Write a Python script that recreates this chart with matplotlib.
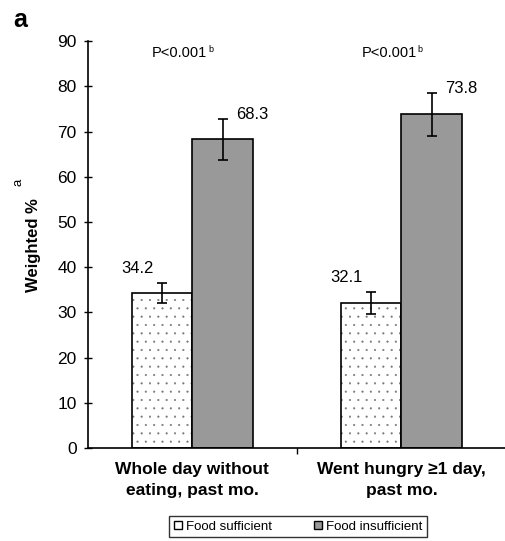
import matplotlib.pyplot as plt
import numpy as np

plt.rcParams['font.family'] = ['Liberation Sans', 'DejaVu Sans']
plt.rcParams['mathtext.default'] = 'regular'
plt.rcParams['hatch.linewidth'] = 0.3

categories = ['Whole day without\neating, past mo.', 'Went hungry \u22651 day,\npast mo.']
sufficient = [34.2, 32.1]
sufficient_err = [2.2, 2.4]
insufficient = [68.3, 73.8]
insufficient_err = [4.5, 4.8]
p_labels = ['P<0.001', 'P<0.001']

fig = plt.figure(figsize=(5.05, 5.41), dpi=100)
ax = fig.add_axes([0.174, 0.172, 0.828, 0.752])

x = np.arange(len(categories))
w = 0.29

# food sufficient: dotted fill
ax.bar(x - w/2, sufficient, w, color='white', edgecolor='#777777', hatch='..', linewidth=0)
ax.bar(x - w/2, sufficient, w, color='none', edgecolor='black', linewidth=1.2)
ax.bar(x + w/2, insufficient, w, color='#999999', edgecolor='black', linewidth=1.2)

ax.errorbar(x - w/2, sufficient, yerr=sufficient_err, fmt='none', ecolor='black',
            elinewidth=1.2, capsize=3.5, capthick=1.2)
ax.errorbar(x + w/2, insufficient, yerr=insufficient_err, fmt='none', ecolor='black',
            elinewidth=1.2, capsize=3.5, capthick=1.2)

# value labels
for i in range(len(x)):
    ax.text(x[i] - w/2 - 0.12, sufficient[i] + sufficient_err[i] + 3.2, '%.1f' % sufficient[i],
            ha='center', va='center', fontsize=12)
    ax.text(x[i] + w/2 + 0.14, insufficient[i] + insufficient_err[i] + 0.9, '%.1f' % insufficient[i],
            ha='center', va='center', fontsize=12)
    t = ax.text(x[i] - 0.06, 87.4, p_labels[i], ha='center', va='center', fontsize=10.5)
    # small superscript b
    ax.annotate('b', xy=(1, 0.75), xycoords=t, xytext=(0.5, 0), textcoords='offset points',
                fontsize=6.5, ha='left', va='center')

ax.set_xlim(-0.5, 1.5)
ax.set_ylim(0, 90)
ax.set_yticks(np.arange(0, 91, 10))
ax.set_xticks([0.5])
ax.set_xticklabels([''])
ax.tick_params(axis='y', direction='inout', length=6, width=1, labelsize=12.5, pad=5)
ax.tick_params(axis='x', direction='out', length=4, width=1)
for i, c in enumerate(categories):
    ax.text(x[i], -3.0, c, ha='center', va='top', fontsize=12.5, fontweight='bold',
            linespacing=1.55)

for s in ['top', 'right']:
    ax.spines[s].set_visible(False)
ax.spines['left'].set_linewidth(1.2)
ax.spines['bottom'].set_linewidth(1.2)

fig.text(0.066, 0.547, 'Weighted %', rotation=90, ha='center', va='center',
         fontsize=12, fontweight='bold')
fig.text(0.036, 0.663, 'a', rotation=90, ha='center', va='center', fontsize=9.5)
fig.text(0.026, 0.963, 'a', fontsize=18, fontweight='bold', ha='left', va='center')

# legend
h1 = plt.Rectangle((0, 0), 1, 1, facecolor='white', edgecolor='black')
h2 = plt.Rectangle((0, 0), 1, 1, facecolor='#999999', edgecolor='black')
leg = fig.legend([h1, h2], ['Food sufficient', 'Food insufficient'], ncol=2,
                 loc='upper left', bbox_to_anchor=(0.335, 0.046), fontsize=9.5,
                 frameon=True, fancybox=False, edgecolor='black', handlelength=0.6,
                 handleheight=0.6, handletextpad=0.3, columnspacing=3.2,
                 borderpad=0.35, borderaxespad=0)
leg.get_frame().set_linewidth(1.0)

fig.savefig('out.png', dpi=100)
